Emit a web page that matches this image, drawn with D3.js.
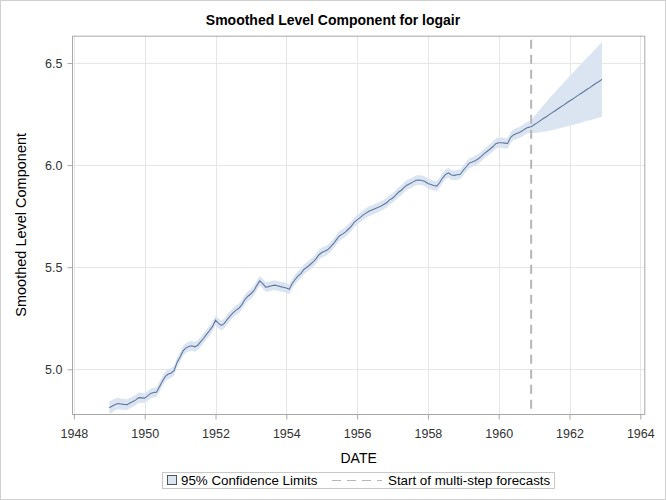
<!DOCTYPE html>
<html><head><meta charset="utf-8">
<script src="https://cdn.jsdelivr.net/npm/d3@7"></script>
<style>body{margin:0;background:#fff;} text{font-family:"Liberation Sans",Arial,sans-serif;}</style>
</head><body>
<svg id="chart" width="666" height="500"></svg>
<script>
// Monthly smoothed level, Jan 1949 .. Dec 1960 (history) then Jan 1961 .. Dec 1962 (forecast)
const startYear = 1949;
const levelValues = [
  4.812,4.820,4.828,4.832,4.830,4.828,4.827,4.835,4.842,4.850,4.861,4.860,
  4.859,4.870,4.882,4.886,4.888,4.915,4.941,4.965,4.977,4.982,4.995,5.035,
  5.060,5.090,5.105,5.112,5.115,5.110,5.118,5.135,5.152,5.172,5.190,5.210,
  5.240,5.225,5.215,5.225,5.245,5.262,5.278,5.290,5.300,5.318,5.343,5.358,
  5.370,5.385,5.410,5.433,5.420,5.402,5.405,5.409,5.412,5.409,5.405,5.402,
  5.398,5.392,5.420,5.440,5.458,5.470,5.490,5.500,5.512,5.525,5.540,5.560,
  5.572,5.578,5.585,5.600,5.615,5.635,5.653,5.662,5.672,5.686,5.700,5.720,
  5.732,5.743,5.755,5.765,5.774,5.780,5.786,5.792,5.799,5.807,5.816,5.830,
  5.838,5.852,5.867,5.877,5.892,5.903,5.910,5.918,5.926,5.927,5.925,5.920,
  5.910,5.905,5.900,5.897,5.915,5.938,5.955,5.962,5.952,5.950,5.953,5.955,
  5.975,5.992,6.010,6.015,6.022,6.030,6.042,6.055,6.067,6.078,6.090,6.105,
  6.110,6.110,6.108,6.106,6.135,6.148,6.155,6.160,6.168,6.178,6.185,6.188,
  6.198,6.207,6.217,6.227,6.236,6.246,6.256,6.265,6.275,6.285,6.294,6.304,
  6.314,6.323,6.333,6.343,6.352,6.362,6.372,6.381,6.391,6.401,6.410,6.420
];
// 95% confidence half-widths, same months
const ciHalfWidth = [
  0.031,0.030,0.029,0.028,0.027,0.027,0.026,0.026,0.025,0.025,0.025,0.025,
  0.024,0.024,0.024,0.024,0.024,0.024,0.024,0.024,0.024,0.024,0.024,0.024,
  0.024,0.024,0.024,0.024,0.024,0.024,0.024,0.024,0.024,0.024,0.024,0.024,
  0.024,0.024,0.024,0.024,0.024,0.024,0.024,0.024,0.024,0.024,0.024,0.024,
  0.024,0.024,0.024,0.024,0.024,0.024,0.024,0.024,0.024,0.024,0.024,0.024,
  0.024,0.024,0.024,0.024,0.024,0.024,0.024,0.024,0.024,0.024,0.024,0.024,
  0.024,0.024,0.024,0.024,0.024,0.024,0.024,0.024,0.024,0.024,0.024,0.024,
  0.024,0.024,0.024,0.024,0.024,0.024,0.024,0.024,0.024,0.024,0.024,0.024,
  0.024,0.024,0.024,0.024,0.024,0.024,0.024,0.024,0.024,0.024,0.024,0.024,
  0.024,0.024,0.024,0.024,0.024,0.024,0.024,0.024,0.024,0.024,0.024,0.024,
  0.024,0.024,0.024,0.024,0.024,0.024,0.024,0.024,0.024,0.024,0.025,0.025,
  0.025,0.025,0.025,0.026,0.026,0.026,0.027,0.027,0.028,0.028,0.029,0.030,
  0.040,0.048,0.056,0.064,0.071,0.078,0.085,0.091,0.097,0.103,0.109,0.115,
  0.121,0.127,0.133,0.139,0.144,0.150,0.155,0.161,0.166,0.172,0.177,0.183
];
const forecastStart = 1960 + 11/12;
const xTicks = [1948,1950,1952,1954,1956,1958,1960,1962,1964];
const yTicks = [5.0,5.5,6.0,6.5];
const titleText = "Smoothed Level Component for logair";
const xLabel = "DATE";
const yLabel = "Smoothed Level Component";
const legendLabels = ["95% Confidence Limits","Start of multi-step forecasts"];

const data = levelValues.map((v,i)=>({t:startYear + i/12, v, lo:v-ciHalfWidth[i], hi:v+ciHalfWidth[i]}));

const svg = d3.select("#chart");
const W=666,H=500;
const L=72,R=645.3,T=35.7,B=414;
const x = d3.scaleLinear().domain([1947.946,1964.141]).range([L,R]);
const y = d3.scaleLinear().domain([4.781,6.634]).range([B,T]);

svg.append("rect").attr("x",0.5).attr("y",0.5).attr("width",W-1).attr("height",H-1)
  .attr("fill","#fff").attr("stroke","#d0d0d0");

// grid
const g = svg.append("g");
g.selectAll(".gx").data(xTicks).join("line")
  .attr("x1",d=>Math.round(x(d))+0.5).attr("x2",d=>Math.round(x(d))+0.5)
  .attr("y1",T).attr("y2",B).attr("stroke","#e6e6e6");
g.selectAll(".gy").data(yTicks).join("line")
  .attr("y1",d=>Math.round(y(d))+0.5).attr("y2",d=>Math.round(y(d))+0.5)
  .attr("x1",L).attr("x2",R).attr("stroke","#e6e6e6");

// band
svg.append("path").datum(data)
  .attr("d",d3.area().x(d=>x(d.t)).y0(d=>y(d.lo)).y1(d=>y(d.hi)))
  .attr("fill","#dbe5f2");
// line
svg.append("path").datum(data)
  .attr("d",d3.line().x(d=>x(d.t)).y(d=>y(d.v)))
  .attr("fill","none").attr("stroke","#60769e").attr("stroke-width",1.1);

// reference line
svg.append("line").attr("x1",x(forecastStart)).attr("x2",x(forecastStart))
  .attr("y1",T+4).attr("y2",B).attr("stroke","#b4b6ba").attr("stroke-width",2)
  .attr("stroke-dasharray","9,6");

// frame
svg.append("rect").attr("x",L+0.5).attr("y",T+0.5).attr("width",R-L-1).attr("height",B-T)
  .attr("fill","none").attr("stroke","#a8a8a8");

// axes
const xAxis = d3.axisBottom(x).tickValues(xTicks).tickFormat(d3.format("d")).tickSize(5).tickSizeOuter(0);
const ax = svg.append("g").attr("transform",`translate(0,${B+0.5})`).call(xAxis);
ax.select(".domain").remove();
ax.selectAll("line").attr("stroke","#a8a8a8");
ax.selectAll("text").attr("fill","#333").style("font-size","12.5px").attr("dy",null).attr("y",23.5);

const yAxis = d3.axisLeft(y).tickValues(yTicks).tickFormat(d3.format(".1f")).tickSize(5).tickSizeOuter(0);
const ay = svg.append("g").attr("transform",`translate(${L+0.5},0)`).call(yAxis);
ay.select(".domain").remove();
ay.selectAll("line").attr("stroke","#a8a8a8");
ay.selectAll("text").attr("fill","#333").style("font-size","12.5px").attr("x",-10);

// titles
svg.append("text").attr("x",333).attr("y",25).attr("text-anchor","middle")
  .style("font-size","14px").style("font-weight","bold").attr("fill","#000").text(titleText);
svg.append("text").attr("x",(L+R)/2).attr("y",462.5).attr("text-anchor","middle")
  .style("font-size","14px").attr("fill","#000").text(xLabel);
svg.append("text").attr("transform",`translate(26,${(T+B)/2}) rotate(-90)`).attr("text-anchor","middle")
  .style("font-size","14.5px").attr("fill","#000").text(yLabel);

// legend
const lg = svg.append("g");
lg.append("rect").attr("x",162.5).attr("y",472.5).attr("width",392).attr("height",16)
  .attr("fill","#fff").attr("stroke","#c8c8c8");
lg.append("rect").attr("x",167.5).attr("y",475.5).attr("width",9).attr("height",9)
  .attr("fill","#dbe5f2").attr("stroke","#555");
lg.append("text").attr("x",181).attr("y",485).style("font-size","13.33px").attr("fill","#000").text(legendLabels[0]);
lg.append("line").attr("x1",332).attr("x2",382).attr("y1",480.5).attr("y2",480.5)
  .attr("stroke","#b4b6ba").attr("stroke-width",1).attr("stroke-dasharray","9,6");
lg.append("text").attr("x",388).attr("y",485).style("font-size","13.33px").attr("fill","#000").text(legendLabels[1]);
</script>
</body></html>
